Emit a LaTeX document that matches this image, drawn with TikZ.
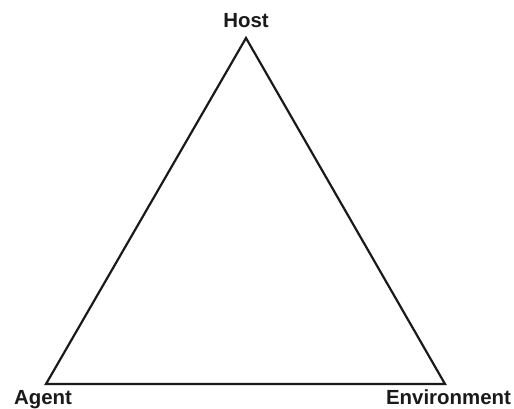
\documentclass[tikz,border=0pt]{standalone}
\usepackage{fontspec}
\setmainfont{Liberation Sans}
\usepackage{xcolor}
\usepackage{tikz}
\usetikzlibrary{positioning}
\definecolor{triink}{HTML}{1A1A1A}

\tikzset{
  vertexlabel/.style={font=\bfseries\fontsize{20.5}{24}\selectfont, text=triink, inner sep=0pt, anchor=base},
  triside/.style={draw=triink, line width=2.2bp, line join=miter}
}

\begin{document}
\begin{tikzpicture}[x=1bp,y=-1bp]
  \useasboundingbox (0,0) rectangle (514,408);

  \coordinate (host) at (246,38);
  \coordinate (agent) at (46,384);
  \coordinate (env) at (445,384);

  \draw[triside] (host) -- (agent) -- (env) -- cycle;

  \node[vertexlabel] (hostlabel) at (246,27) {Host};
  \node[vertexlabel] (agentlabel) at (43,404) {Agent};
  \node[vertexlabel] (envlabel) at (448.5,404) {Environment};
\end{tikzpicture}
\end{document}
